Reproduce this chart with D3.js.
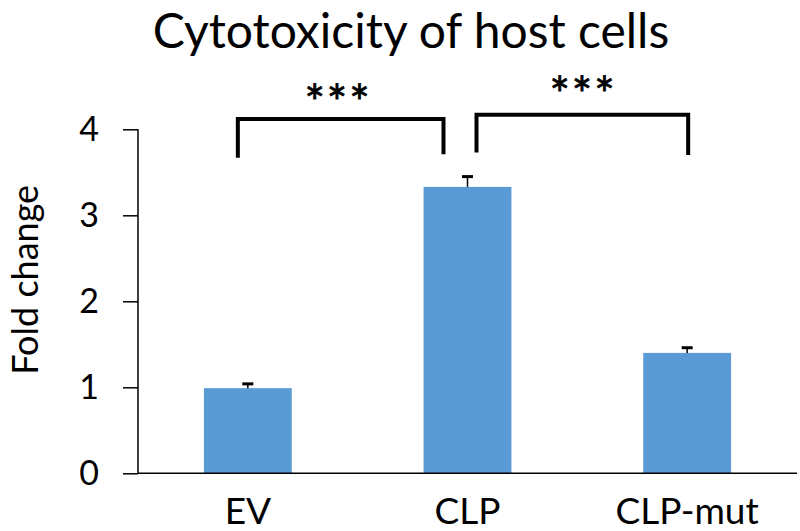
<!DOCTYPE html>
<html><head><meta charset="utf-8">
<script src="https://cdn.jsdelivr.net/npm/d3@7"></script>
<style>body{margin:0;background:#fff}svg{display:block}</style>
</head><body>
<script>
const categories = ["EV", "CLP", "CLP-mut"];
const values = [0.99, 3.33, 1.40];
const errors = [0.05, 0.12, 0.06];
const yTicks = [0, 1, 2, 3, 4];
const comparisons = [
  {from: "EV", to: "CLP", label: "***", level: 4.12, leftEnd: 3.67, rightEnd: 3.71},
  {from: "CLP", to: "CLP-mut", label: "***", level: 4.17, leftEnd: 3.73, rightEnd: 3.70}
];
const title = "Cytotoxicity of host cells";
const yTitle = "Fold change";

const W = 800, H = 531;
const font = "Lato, 'Open Sans', sans-serif";
const svg = d3.select("body").append("svg").attr("width", W).attr("height", H);

const x = d3.scaleBand().domain(categories).range([138, 797]).paddingInner(0.6).paddingOuter(0.3);
const y = d3.scaleLinear().domain([0, 4]).range([473.3, 129.3]);
const cx = c => x(c) + x.bandwidth() / 2;

// bars
svg.selectAll("rect.bar").data(categories).enter().append("rect")
  .attr("x", d => x(d)).attr("width", x.bandwidth())
  .attr("y", (d, i) => y(values[i])).attr("height", (d, i) => y(0) - y(values[i]))
  .attr("fill", "#5b9bd5");

// error bars (upper)
categories.forEach((c, i) => {
  const xc = cx(c);
  svg.append("line").attr("x1", xc).attr("x2", xc)
    .attr("y1", y(values[i])).attr("y2", y(values[i] + errors[i]))
    .attr("stroke", "#000").attr("stroke-width", 1.5);
  svg.append("line").attr("x1", xc - 5.5).attr("x2", xc + 5.5)
    .attr("y1", y(values[i] + errors[i])).attr("y2", y(values[i] + errors[i]))
    .attr("stroke", "#000").attr("stroke-width", 3);
});

// y axis
const yAxis = d3.axisLeft(y).tickValues(yTicks).tickSize(15).tickPadding(24).tickFormat(d3.format("d"));
const gy = svg.append("g").attr("transform", "translate(138,0)").call(yAxis);
gy.select(".domain").attr("d", `M0,${y(4)}V${y(0)}`).attr("stroke-width", 1.5);
gy.selectAll(".tick line").attr("stroke-width", 1.5);
gy.selectAll(".tick text").attr("font-family", font).attr("font-size", 34).attr("fill", "#000");

// x axis
const xAxis = d3.axisBottom(x).tickSize(0).tickPadding(0);
const gx = svg.append("g").attr("transform", `translate(0,${y(0)})`).call(xAxis);
gx.select(".domain").attr("d", `M138,0H797`).attr("stroke-width", 1.5);
gx.selectAll(".tick text").attr("font-family", font).attr("font-size", 37).attr("fill", "#000")
  .attr("y", 51).attr("dy", 0);

// title
svg.append("text").attr("x", 411).attr("y", 48).attr("text-anchor", "middle")
  .attr("font-family", font).attr("font-size", 48).attr("fill", "#000").text(title);

// y title
svg.append("text").attr("transform", `translate(38,${y(2.25)}) rotate(-90)`)
  .attr("text-anchor", "middle").attr("font-family", font).attr("font-size", 36)
  .attr("fill", "#000").text(yTitle);

// significance brackets
const brk = [
  {xl: cx("EV") - 10, xr: cx("CLP") - 24, sx: 338, sy: 120},
  {xl: cx("CLP") + 9, xr: cx("CLP-mut") + 1, sx: 583, sy: 112}
];
comparisons.forEach((cmp, i) => {
  const b = brk[i];
  svg.append("path")
    .attr("d", `M${b.xl},${y(cmp.leftEnd)}V${y(cmp.level)}H${b.xr}V${y(cmp.rightEnd)}`)
    .attr("fill", "none").attr("stroke", "#000").attr("stroke-width", 4);
  svg.append("text").attr("x", b.sx).attr("y", b.sy)
    .attr("text-anchor", "middle").attr("font-family", font).attr("font-size", 48)
    .attr("letter-spacing", 2).attr("fill", "#000").attr("stroke", "#000")
    .attr("stroke-width", 0.8).text(cmp.label);
});
</script>
</body></html>
